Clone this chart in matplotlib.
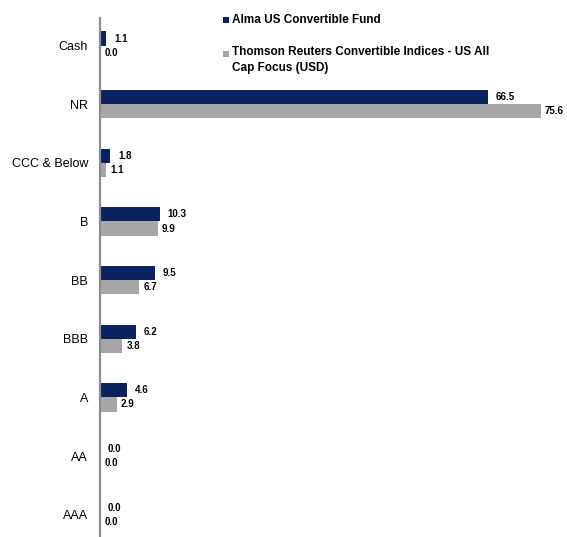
import numpy as np
import matplotlib.pyplot as plt
from matplotlib.patches import Rectangle

plt.rcParams['font.family'] = ['Liberation Sans', 'DejaVu Sans']

categories = ['Cash', 'NR', 'CCC & Below', 'B', 'BB', 'BBB', 'A', 'AA', 'AAA']
fund = [1.1, 66.5, 1.8, 10.3, 9.5, 6.2, 4.6, 0.0, 0.0]
index = [0.0, 75.6, 1.1, 9.9, 6.7, 3.8, 2.9, 0.0, 0.0]
fund_name = 'Alma US Convertible Fund'
index_name = 'Thomson Reuters Convertible Indices - US All\nCap Focus (USD)'

navy = '#0B2260'
grey = '#A6A6A6'

W, H = 567, 537
fig = plt.figure(figsize=(W / 100, H / 100), dpi=100)
ax = fig.add_axes([100 / W, 0.0, 460 / W, 519 / H])

y = np.arange(len(categories))
h = 0.24
ax.barh(y - h / 2, fund, height=h, color=navy)
ax.barh(y + h / 2, index, height=h, color=grey)

for yi, v in zip(y, fund):
    ax.annotate(f'{v:.1f}', (v, yi - h / 2), xytext=(5.5, 0), textcoords='offset points',
                va='center', ha='left', fontsize=7, fontweight='bold')
for yi, v in zip(y, index):
    ax.annotate(f'{v:.1f}', (v, yi + h / 2), xytext=(3, 0), textcoords='offset points',
                va='center', ha='left', fontsize=7, fontweight='bold')

ax.set_yticks(y)
ax.set_yticklabels(categories, fontsize=9)
ax.tick_params(axis='y', length=0, pad=8.5)
ax.set_ylim(len(categories) - 1 + 0.38, -0.47)
ax.set_xlim(0, 460 / 5.83)
ax.set_xticks([])
for s in ['top', 'right', 'bottom']:
    ax.spines[s].set_visible(False)
ax.spines['left'].set_color('#8C8C8C')
ax.spines['left'].set_linewidth(1.6)

# legend drawn by hand (square markers sit beside the first text line)
for ytop, c in [(17, navy), (51, grey)]:
    fig.add_artist(Rectangle((223 / W, 1 - (ytop + 6) / H), 6 / W, 6 / H,
                             transform=fig.transFigure, color=c, lw=0))
fig.text(232 / W, 1 - 20 / H, fund_name, ha='left', va='center',
         fontsize=8.5, fontweight='bold')
fig.text(232 / W, 1 - 60 / H, index_name, ha='left', va='center',
         fontsize=8.5, fontweight='bold', linespacing=1.37)

fig.savefig('out.png', dpi=100)
